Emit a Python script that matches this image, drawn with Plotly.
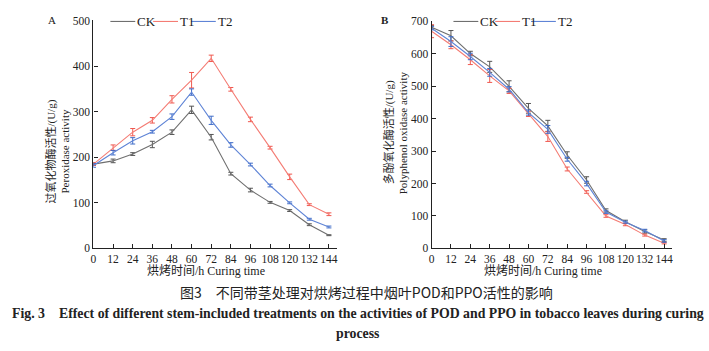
import plotly.graph_objects as go

hours = [0, 12, 24, 36, 48, 60, 72, 84, 96, 108, 120, 132, 144]
x_ticks = hours

# Panel A: POD (U/g)
pod_ck = [185, 192, 207, 228, 255, 304, 244, 164, 128, 101, 83, 52, 29]
pod_t1 = [185, 221, 255, 281, 327, 369, 417, 349, 283, 221, 157, 96, 75]
pod_t2 = [182, 210, 236, 256, 289, 343, 281, 227, 184, 138, 100, 64, 47]
pod_ck_err = [3, 4, 3, 7, 5, 8, 6, 3, 4, 2, 2, 2, 1]
pod_t1_err = [3, 6, 8, 6, 8, 17, 7, 4, 5, 3, 6, 2, 3]
pod_t2_err = [4, 5, 7, 3, 6, 7, 9, 5, 3, 3, 2, 2, 2]

# Panel B: PPO (U/g)
ppo_ck = [682, 656, 601, 560, 500, 432, 378, 288, 211, 117, 82, 52, 26]
ppo_t1 = [670, 628, 582, 532, 486, 415, 345, 245, 174, 100, 74, 41, 16]
ppo_t2 = [679, 638, 592, 543, 491, 419, 367, 275, 200, 112, 81, 55, 23]
ppo_ck_err = [5, 16, 7, 17, 17, 15, 17, 10, 10, 5, 5, 5, 4]
ppo_t1_err = [20, 12, 15, 20, 8, 8, 15, 6, 4, 4, 4, 3, 2]
ppo_t2_err = [5, 15, 10, 12, 8, 8, 12, 6, 7, 4, 3, 4, 4]

names = ["CK", "T1", "T2"]
line_colors = ["#6f6f6f", "#f47c74", "#5f84d6"]
bar_colors = ["#555555", "#f0584f", "#3f6cc8"]

serif = "Liberation Serif, Times New Roman, serif"
mixed = "Liberation Serif, Noto Sans CJK SC, serif"
cjk = "Noto Sans CJK SC"

W, H = 709, 351
fig = go.Figure()

def add_series(ys, errs, xa, ya):
    for name, y, e, lc, bc in zip(names, ys, errs, line_colors, bar_colors):
        fig.add_trace(go.Scatter(
            x=hours, y=y, name=name, mode="lines",
            line=dict(color=lc, width=1.1),
            error_y=dict(type="data", array=e, visible=True,
                         color=bc, thickness=1, width=2.5),
            xaxis=xa, yaxis=ya, showlegend=False,
        ))

add_series([pod_ck, pod_t1, pod_t2], [pod_ck_err, pod_t1_err, pod_t2_err], "x", "y")
add_series([ppo_ck, ppo_t1, ppo_t2], [ppo_ck_err, ppo_t1_err, ppo_t2_err], "x2", "y2")

axis_common = dict(
    showline=True, linecolor="#222", linewidth=1.2, ticks="inside",
    ticklen=4, tickcolor="#222", showgrid=False, zeroline=False,
    tickangle=0,
    tickfont=dict(family=serif, size=11.5, color="#222"),
)

fig.update_layout(
    width=W, height=H,
    margin=dict(l=0, r=0, t=0, b=0),
    paper_bgcolor="white", plot_bgcolor="white",
    showlegend=False,
    xaxis=dict(domain=[91/W, 336/W], range=[0, 149], tickvals=x_ticks,
               anchor="y", **axis_common),
    yaxis=dict(domain=[1-251/H, 1-15/H], range=[0, 500],
               tickvals=[0, 100, 200, 300, 400, 500], anchor="x", **axis_common),
    xaxis2=dict(domain=[431/W, 673/W], range=[0, 149], tickvals=x_ticks,
                anchor="y2", **axis_common),
    yaxis2=dict(domain=[1-251/H, 1-16/H], range=[0, 700],
                tickvals=[0, 100, 200, 300, 400, 500, 600, 700], anchor="x2", **axis_common),
)

ann = []
shapes = []
def text(x, y, s, size=12, family=serif, angle=0, bold=False, color="#222", xanchor="center"):
    if bold:
        s = "<b>" + s + "</b>"
    ann.append(dict(x=x/W, y=1-y/H, xref="paper", yref="paper", text=s,
                    showarrow=False, textangle=angle, xanchor=xanchor, yanchor="middle",
                    font=dict(family=family, size=size, color=color)))

# Custom legends (line sample + label), positions in pixels
legend_starts_A = [108, 151, 189]
legend_starts_B = [453, 495, 531]
for starts, ly in ((legend_starts_A, 16), (legend_starts_B, 16)):
    for name, lc, x0 in zip(names, line_colors, starts):
        shapes.append(dict(type="line", xref="paper", yref="paper",
                           x0=x0/W, x1=(x0+25)/W, y0=1-ly/H, y1=1-ly/H,
                           line=dict(color=lc, width=1.1)))
        text(x0+25, ly, name, size=13, xanchor="left")

text(49, 15, "A", size=11)
text(384, 15, "B", size=11, bold=True)

# Y-axis titles
text(48, 151, "过氧化物酶活性/(U/g)", size=11, family=mixed, angle=-90)
text(62, 150, "Peroxidase activity", size=11, angle=-90)
text(388, 131, "多酚氧化酶活性/(U/g)", size=11, family=mixed, angle=-90)
text(402, 131, "Polyphenol oxidase activity", size=11, angle=-90)

# X-axis titles
text(204, 274, "烘烤时间/h Curing time", size=12, family=mixed)
text(543, 274, "烘烤时间/h Curing time", size=12, family=mixed)

# Caption
text(366, 296, "图3　不同带茎处理对烘烤过程中烟叶POD和PPO活性的影响", size=14, family=cjk)
text(357, 318, "Fig. 3　Effect of different stem-included treatments on the activities of POD and PPO in tobacco leaves during curing",
     size=13.8, bold=True)
text(357, 339, "process", size=13.8, bold=True)

fig.update_layout(annotations=ann, shapes=shapes)
fig.write_html("out.html")
